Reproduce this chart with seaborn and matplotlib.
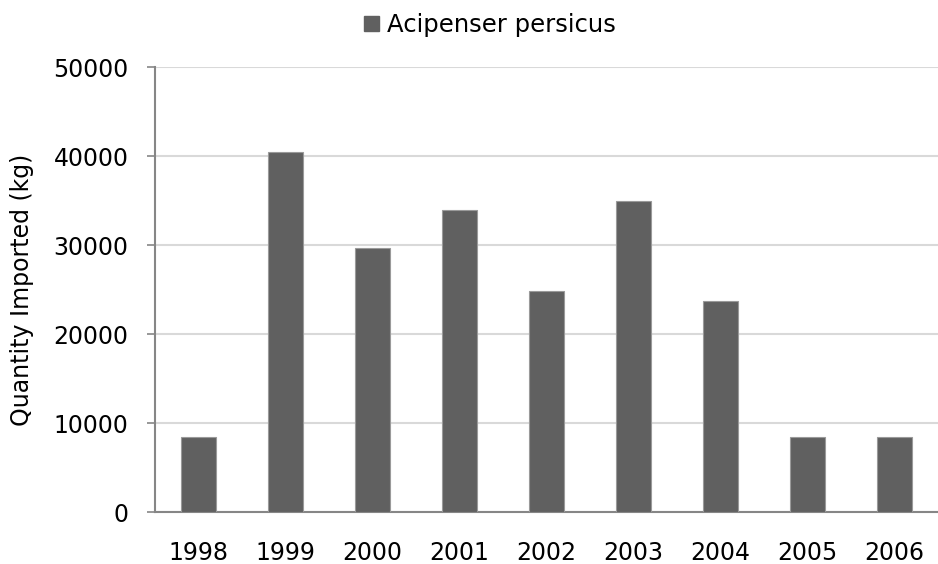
import matplotlib
matplotlib.use("Agg")
import matplotlib.pyplot as plt
import matplotlib.patches as mpatches
import numpy as np
import pandas as pd
import seaborn as sns

# data
years = ["1998", "1999", "2000", "2001", "2002", "2003", "2004", "2005", "2006"]
quantity = [8400, 40500, 29700, 33900, 24800, 35000, 23700, 8400, 8400]
series_name = "Acipenser persicus"

df = pd.DataFrame({"year": years, "kg": quantity})

sns.set_theme(style="white")
plt.rcParams["font.family"] = ["DejaVu Sans"]
plt.rcParams["text.color"] = "black"

fig = plt.figure(figsize=(9.38, 5.64), dpi=100)
ax = fig.add_axes([0.165, 0.092, 0.835, 0.789])

sns.barplot(data=df, x="year", y="kg", color="#606060", width=0.4,
            edgecolor="#9a9a9a", linewidth=0.8, saturation=1, ax=ax, zorder=3)

ax.set_ylim(0, 50000)
ax.set_xlim(-0.5, len(years) - 0.5)
ax.set_yticks(np.arange(0, 50001, 10000))
ax.yaxis.grid(True, color="#d9d9d9", linewidth=1.5, zorder=0)
ax.set_axisbelow(True)

for side in ["top", "right"]:
    ax.spines[side].set_visible(False)
for side in ["left", "bottom"]:
    ax.spines[side].set_color("#868686")
    ax.spines[side].set_linewidth(1.5)

# ticks between categories on x, labels centred
ax.set_xticks(np.arange(-0.5, len(years), 1.0), minor=True)
ax.tick_params(axis="x", which="minor", length=8, width=1.2, color="#868686", direction="out")
ax.tick_params(axis="x", which="major", length=0, pad=21, labelsize=17, labelcolor="black")
ax.tick_params(axis="y", length=6, width=1.2, color="#868686", direction="out",
               labelsize=17, labelcolor="black", left=True, pad=13)

ax.set_xlabel("")
ax.set_ylabel("Quantity Imported (kg)", fontsize=17, color="black", labelpad=14)

handle = mpatches.Patch(color="#606060", label=series_name)
fig.legend(handles=[handle], loc="center", bbox_to_anchor=(490 / 938, 1 - 25 / 564),
           frameon=False, fontsize=17.5, handlelength=0.6, handleheight=0.6,
           handletextpad=0.35, labelcolor="black")

fig.savefig("out.png", dpi=100)
